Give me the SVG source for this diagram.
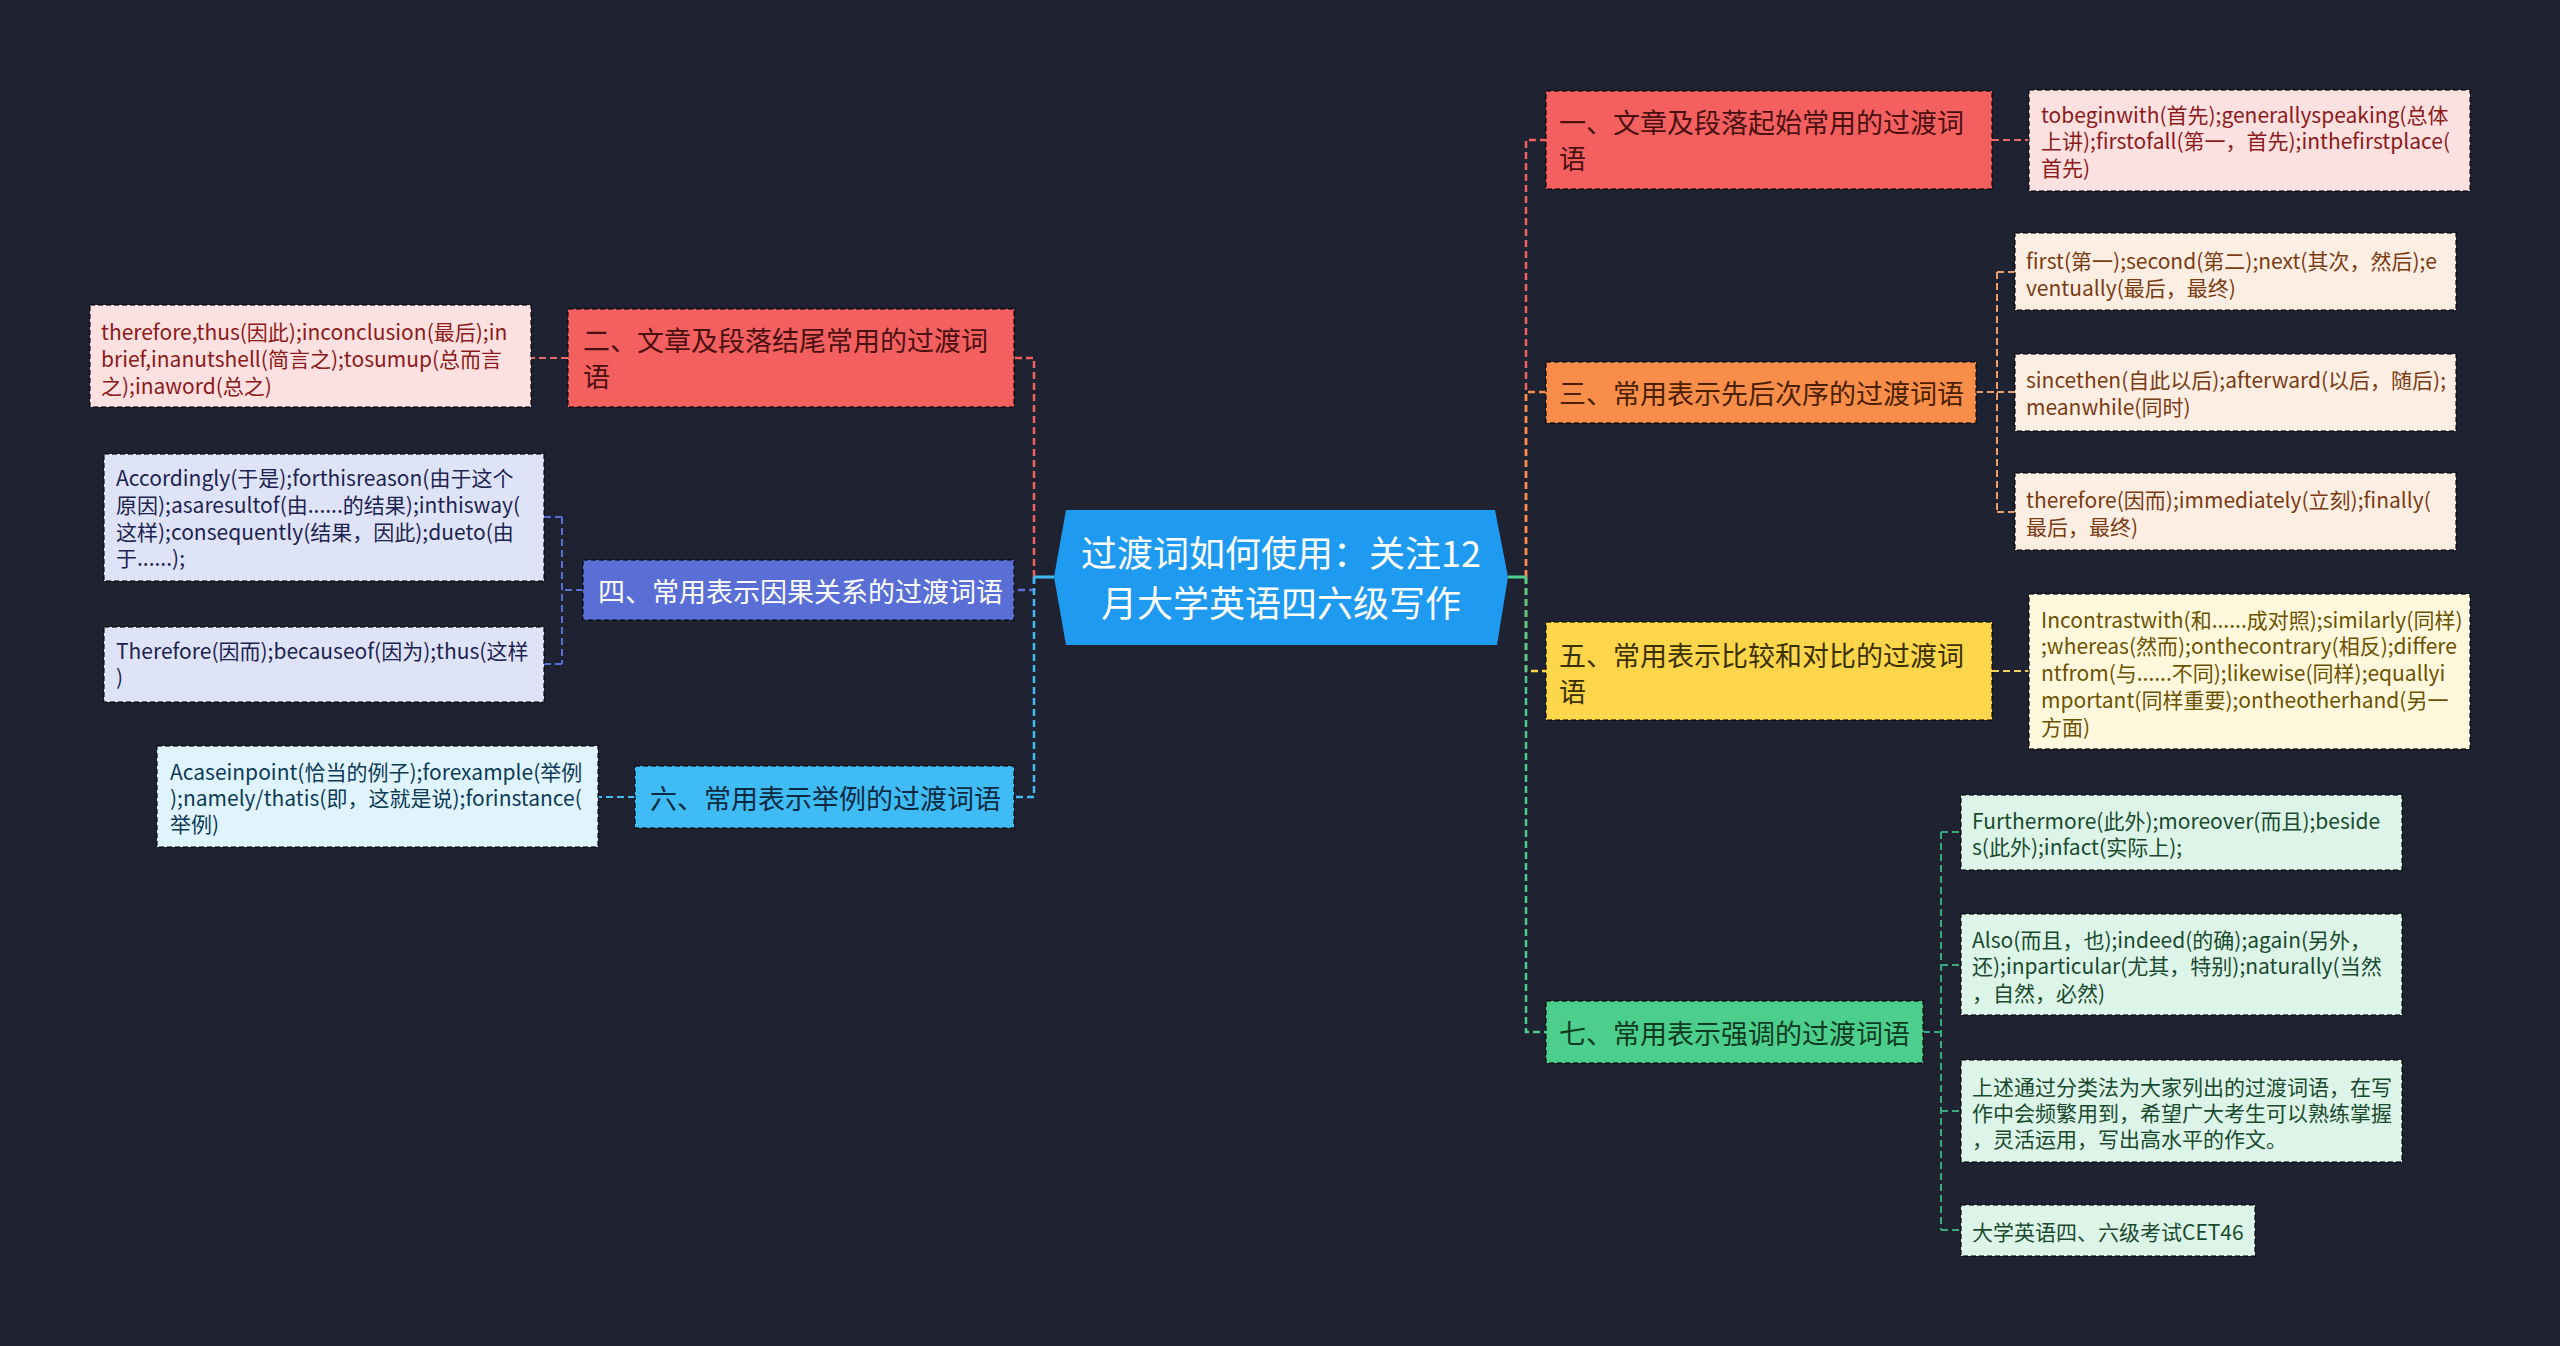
<svg xmlns="http://www.w3.org/2000/svg" width="2560" height="1346" viewBox="0 0 2560 1346">
<style>
text{font-family:"Noto Sans CJK SC","Noto Sans",sans-serif;dominant-baseline:central}
.nt{font-size:27px}
.lt{font-size:21px}
.box{stroke:rgba(0,0,0,0.55);stroke-width:2;stroke-dasharray:5 3}
.c{fill:none;stroke-width:2.5;stroke-dasharray:7 4}
.c2{fill:none;stroke-width:2;stroke-dasharray:7 4}
.s{fill:none;stroke-width:3}
</style>
<rect width="2560" height="1346" fill="#1f2331"/>
<g id="connectors">
<path class="c" stroke="#f46060" d="M1526,577 V140 H1546"/>
<path class="c" stroke="#f98e4b" d="M1526,577 V392 H1546"/>
<path class="c" stroke="#fdd64b" d="M1526,577 V671 H1546"/>
<path class="c" stroke="#4ccf8c" d="M1526,577 V1032 H1546"/>
<path class="s" stroke="#4ccf8c" d="M1508,577 H1526"/>
<path class="c" stroke="#f46060" d="M1034,577 V358 H1014"/>
<path class="c" stroke="#5a6fd6" d="M1034,577 V590 H1014"/>
<path class="c" stroke="#3fbcf5" d="M1034,577 V797 H1014"/>
<path class="s" stroke="#3fbcf5" d="M1054,577 H1034"/>
<path class="c2" stroke="#e86a6a" d="M1992,140 H2029"/>
<path class="c2" stroke="#e8a070" d="M1976,392 H1997 M1997,272 V512 M1997,272 H2015 M1997,392 H2015 M1997,512 H2015"/>
<path class="c2" stroke="#f0cf5a" d="M1992,671 H2029"/>
<path class="c2" stroke="#3aa97c" d="M1923,1032 H1941 M1941,832 V1230 M1941,832 H1961 M1941,965 H1961 M1941,1111 H1961 M1941,1230 H1961"/>
<path class="c2" stroke="#e86a6a" d="M568,358 H531"/>
<path class="c2" stroke="#5a6fd6" d="M583,590 H562 M562,517 V664 M562,517 H544 M562,664 H544"/>
<path class="c2" stroke="#3fbcf5" d="M635,797 H598"/>
</g>
<g id="center">
<polygon points="1054,577 1066,510 1495,510 1508,577 1497,645 1066,645" fill="#1e9bf0"/>
<text x="1281" y="551" font-size="36" fill="#ffffff" text-anchor="middle">过渡词如何使用：关注12</text>
<text x="1281" y="601" font-size="36" fill="#ffffff" text-anchor="middle">月大学英语四六级写作</text>
</g>
<g id="n1">
<rect class="box" x="1546" y="91" width="446" height="98" fill="#f46060"/>
<text class="nt" x="1559" y="121" fill="#4a1010">一、文章及段落起始常用的过渡词</text>
<text class="nt" x="1559" y="157" fill="#4a1010">语</text>
</g>
<g id="n1-leaf">
<rect class="box" x="2029" y="90" width="441" height="101" fill="#fde0e0"/>
<text class="lt" x="2041" y="114" fill="#8b1a1a">tobeginwith(首先);generallyspeaking(总体</text>
<text class="lt" x="2041" y="140" fill="#8b1a1a">上讲);firstofall(第一，首先);inthefirstplace(</text>
<text class="lt" x="2041" y="167" fill="#8b1a1a">首先)</text>
</g>
<g id="n3">
<rect class="box" x="1546" y="362" width="430" height="61" fill="#f98e4b"/>
<text class="nt" x="1559" y="392" fill="#4a2000">三、常用表示先后次序的过渡词语</text>
</g>
<g id="n3-leaf1">
<rect class="box" x="2015" y="233" width="441" height="77" fill="#fdeee4"/>
<text class="lt" x="2026" y="260" fill="#7a3b12">first(第一);second(第二);next(其次，然后);e</text>
<text class="lt" x="2026" y="287" fill="#7a3b12">ventually(最后，最终)</text>
</g>
<g id="n3-leaf2">
<rect class="box" x="2015" y="354" width="441" height="77" fill="#fdeee4"/>
<text class="lt" x="2026" y="379" fill="#7a3b12">sincethen(自此以后);afterward(以后，随后);</text>
<text class="lt" x="2026" y="406" fill="#7a3b12">meanwhile(同时)</text>
</g>
<g id="n3-leaf3">
<rect class="box" x="2015" y="473" width="441" height="77" fill="#fdeee4"/>
<text class="lt" x="2026" y="499" fill="#7a3b12">therefore(因而);immediately(立刻);finally(</text>
<text class="lt" x="2026" y="526" fill="#7a3b12">最后，最终)</text>
</g>
<g id="n5">
<rect class="box" x="1546" y="622" width="446" height="98" fill="#fdd64b"/>
<text class="nt" x="1559" y="654" fill="#3a3000">五、常用表示比较和对比的过渡词</text>
<text class="nt" x="1559" y="690" fill="#3a3000">语</text>
</g>
<g id="n5-leaf">
<rect class="box" x="2029" y="594" width="441" height="155" fill="#fff8dc"/>
<text class="lt" x="2041" y="619" fill="#6b5200">Incontrastwith(和......成对照);similarly(同样)</text>
<text class="lt" x="2041" y="645" fill="#6b5200">;whereas(然而);onthecontrary(相反);differe</text>
<text class="lt" x="2041" y="672" fill="#6b5200">ntfrom(与......不同);likewise(同样);equallyi</text>
<text class="lt" x="2041" y="699" fill="#6b5200">mportant(同样重要);ontheotherhand(另一</text>
<text class="lt" x="2041" y="726" fill="#6b5200">方面)</text>
</g>
<g id="n7">
<rect class="box" x="1546" y="1001" width="377" height="62" fill="#4ccf8c"/>
<text class="nt" x="1559" y="1032" fill="#0f3a22">七、常用表示强调的过渡词语</text>
</g>
<g id="n7-leaf1">
<rect class="box" x="1961" y="795" width="441" height="75" fill="#dcf5e8"/>
<text class="lt" x="1972" y="820" fill="#1a4a2e">Furthermore(此外);moreover(而且);beside</text>
<text class="lt" x="1972" y="846" fill="#1a4a2e">s(此外);infact(实际上);</text>
</g>
<g id="n7-leaf2">
<rect class="box" x="1961" y="914" width="441" height="101" fill="#dcf5e8"/>
<text class="lt" x="1972" y="939" fill="#1a4a2e">Also(而且，也);indeed(的确);again(另外，</text>
<text class="lt" x="1972" y="965" fill="#1a4a2e">还);inparticular(尤其，特别);naturally(当然</text>
<text class="lt" x="1972" y="992" fill="#1a4a2e">，自然，必然)</text>
</g>
<g id="n7-leaf3">
<rect class="box" x="1961" y="1060" width="441" height="102" fill="#dcf5e8"/>
<text class="lt" x="1972" y="1086" fill="#1a4a2e">上述通过分类法为大家列出的过渡词语，在写</text>
<text class="lt" x="1972" y="1112" fill="#1a4a2e">作中会频繁用到，希望广大考生可以熟练掌握</text>
<text class="lt" x="1972" y="1138" fill="#1a4a2e">，灵活运用，写出高水平的作文。</text>
</g>
<g id="n7-leaf4">
<rect class="box" x="1961" y="1205" width="294" height="51" fill="#dcf5e8"/>
<text class="lt" x="1972" y="1231" fill="#1a4a2e">大学英语四、六级考试CET46</text>
</g>
<g id="n2">
<rect class="box" x="568" y="309" width="446" height="98" fill="#f46060"/>
<text class="nt" x="583" y="339" fill="#4a1010">二、文章及段落结尾常用的过渡词</text>
<text class="nt" x="583" y="375" fill="#4a1010">语</text>
</g>
<g id="n2-leaf">
<rect class="box" x="90" y="305" width="441" height="102" fill="#fde0e0"/>
<text class="lt" x="101" y="331" fill="#8b1a1a">therefore,thus(因此);inconclusion(最后);in</text>
<text class="lt" x="101" y="358" fill="#8b1a1a">brief,inanutshell(简言之);tosumup(总而言</text>
<text class="lt" x="101" y="385" fill="#8b1a1a">之);inaword(总之)</text>
</g>
<g id="n4">
<rect class="box" x="583" y="560" width="431" height="60" fill="#5a6fd6"/>
<text class="nt" x="598" y="590" fill="#ffffff">四、常用表示因果关系的过渡词语</text>
</g>
<g id="n4-leaf1">
<rect class="box" x="104" y="454" width="440" height="127" fill="#dfe3f7"/>
<text class="lt" x="116" y="477" fill="#1c2350">Accordingly(于是);forthisreason(由于这个</text>
<text class="lt" x="116" y="504" fill="#1c2350">原因);asaresultof(由......的结果);inthisway(</text>
<text class="lt" x="116" y="531" fill="#1c2350">这样);consequently(结果，因此);dueto(由</text>
<text class="lt" x="116" y="557" fill="#1c2350">于......);</text>
</g>
<g id="n4-leaf2">
<rect class="box" x="104" y="627" width="440" height="75" fill="#dfe3f7"/>
<text class="lt" x="116" y="650" fill="#1c2350">Therefore(因而);becauseof(因为);thus(这样</text>
<text class="lt" x="116" y="676" fill="#1c2350">)</text>
</g>
<g id="n6">
<rect class="box" x="635" y="766" width="379" height="62" fill="#3fbcf5"/>
<text class="nt" x="650" y="797" fill="#0a2a40">六、常用表示举例的过渡词语</text>
</g>
<g id="n6-leaf">
<rect class="box" x="157" y="746" width="441" height="101" fill="#e0f4fd"/>
<text class="lt" x="170" y="771" fill="#0d3a55">Acaseinpoint(恰当的例子);forexample(举例</text>
<text class="lt" x="170" y="797" fill="#0d3a55">);namely/thatis(即，这就是说);forinstance(</text>
<text class="lt" x="170" y="823" fill="#0d3a55">举例)</text>
</g>
</svg>
